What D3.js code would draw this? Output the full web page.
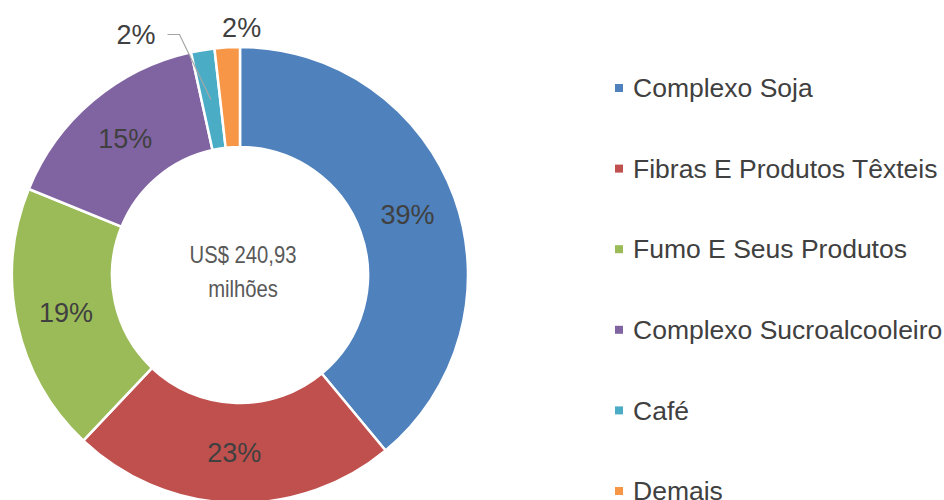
<!DOCTYPE html>
<html>
<head>
<meta charset="utf-8">
<script src="https://cdn.jsdelivr.net/npm/d3@7"></script>
<style>
  body { margin: 0; background: #fff; }
  svg { display: block; }
</style>
</head>
<body>
<script>
// Chart size
const width = 944;
const height = 500;

// Data (US$ millions)
const categories = ['Complexo Soja', 'Fibras E Produtos Têxteis', 'Fumo E Seus Produtos',
  'Complexo Sucroalcooleiro', 'Café', 'Demais'];
const values = [93.9, 55.6, 46.0, 37.1, 4.0, 4.3];
const colors = ['#4F81BD', '#C0504D', '#9BBB59', '#8064A2', '#4BACC6', '#F79646'];
const centerLines = ['US$ 240,93', 'milhões'];

const total = d3.sum(values);
const pct = d3.format('.0%');

const cx = 240, cy = 275;
const outer = 228, inner = 128;

const svg = d3.select('body')
  .append('svg')
  .attr('width', width)
  .attr('height', height);

const data = categories.map((c, i) => ({ name: c, value: values[i], color: colors[i] }));

const pie = d3.pie().sort(null).value(d => d.value);
const arc = d3.arc().innerRadius(inner).outerRadius(outer);
const labelArc = d3.arc().innerRadius((inner + outer) / 2).outerRadius((inner + outer) / 2);

const arcs = pie(data);

const g = svg.append('g').attr('transform', `translate(${cx},${cy})`);

// Slices
g.selectAll('path.slice')
  .data(arcs)
  .enter()
  .append('path')
  .attr('class', 'slice')
  .attr('d', arc)
  .attr('fill', d => d.data.color)
  .attr('stroke', '#fff')
  .attr('stroke-width', 2.5);

// polar helper
function polar(a, r) { return [r * Math.sin(a), -r * Math.cos(a)]; }

const labelFont = '"Liberation Sans", Arial, sans-serif';

// Inside labels for the big slices
g.selectAll('text.inlabel')
  .data(arcs.filter(d => d.value / total > 0.05))
  .enter()
  .append('text')
  .attr('class', 'inlabel')
  .attr('x', d => labelArc.centroid(d)[0])
  .attr('y', d => labelArc.centroid(d)[1])
  .attr('dy', '0.35em')
  .attr('text-anchor', 'middle')
  .attr('font-family', labelFont)
  .attr('font-size', 27)
  .attr('fill', '#404040')
  .text(d => pct(d.value / total));

// Café: label with a leader line
const cafe = arcs[4];
const cafeIn = labelArc.centroid(cafe);
const elbow = polar(cafe.startAngle - 0.03, outer + 20);
g.append('polyline')
  .attr('points', [cafeIn, elbow, [elbow[0] - 12, elbow[1]]].map(p => p.join(',')).join(' '))
  .attr('fill', 'none')
  .attr('stroke', '#A6A6A6')
  .attr('stroke-width', 1.2);
g.append('text')
  .attr('x', elbow[0] - 24)
  .attr('y', elbow[1])
  .attr('dy', '0.35em')
  .attr('text-anchor', 'end')
  .attr('font-family', labelFont)
  .attr('font-size', 27)
  .attr('fill', '#404040')
  .text(pct(cafe.value / total));

// Demais: label just outside
const dem = arcs[5];
const demPos = polar((dem.startAngle + dem.endAngle) / 2, outer + 20);
g.append('text')
  .attr('x', demPos[0] - 4)
  .attr('y', demPos[1])
  .attr('dy', '0.35em')
  .attr('text-anchor', 'start')
  .attr('font-family', labelFont)
  .attr('font-size', 27)
  .attr('fill', '#404040')
  .text(pct(dem.value / total));

// Center text (narrow, like the original)
g.append('g')
  .attr('transform', 'translate(3,0) scale(0.88,1)')
  .append('text')
  .attr('text-anchor', 'middle')
  .attr('font-family', labelFont)
  .attr('font-size', 23)
  .attr('fill', '#595959')
  .selectAll('tspan')
  .data(centerLines)
  .enter()
  .append('tspan')
  .attr('x', 0)
  .attr('y', (d, i) => -12 + i * 34)
  .text(d => d);

// Legend
const legendY = d3.scalePoint()
  .domain(categories)
  .range([88, 491]);

const legend = svg.append('g')
  .selectAll('g')
  .data(data)
  .enter()
  .append('g')
  .attr('transform', d => `translate(615,${legendY(d.name)})`);

legend.append('rect')
  .attr('x', 0)
  .attr('y', -4)
  .attr('width', 8)
  .attr('height', 8)
  .attr('fill', d => d.color);

legend.append('text')
  .attr('x', 18)
  .attr('dy', '0.35em')
  .attr('font-family', labelFont)
  .attr('font-size', 26.5)
  .attr('fill', '#404040')
  .text(d => d.name);
</script>
</body>
</html>
